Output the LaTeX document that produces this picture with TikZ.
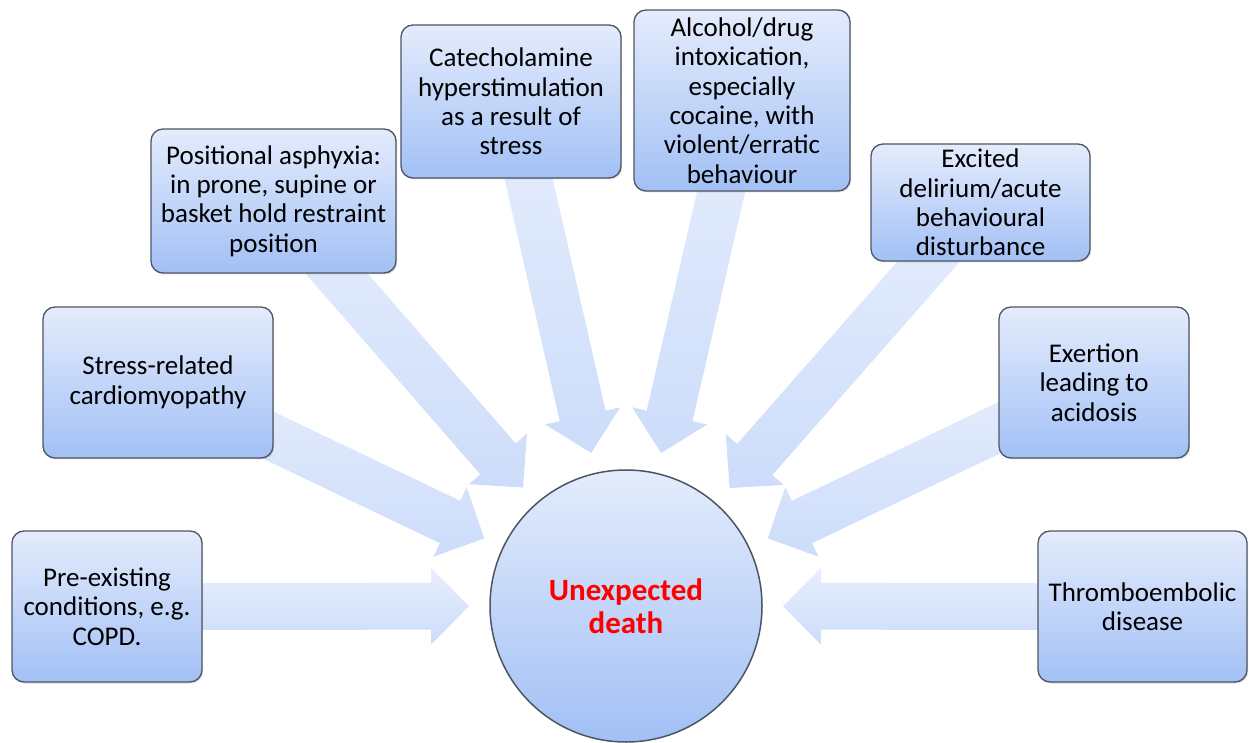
\documentclass[tikz,border=0pt]{standalone}
\usepackage{fontspec}
\setmainfont{Carlito}
\usetikzlibrary{calc,backgrounds,shadows}
\definecolor{boxtop}{HTML}{E4ECFC}
\definecolor{boxbot}{HTML}{A2C0F5}
\definecolor{arrtop}{HTML}{E8EFFD}
\definecolor{arrbot}{HTML}{CCDCFA}
\definecolor{edgegray}{HTML}{4E5562}
\begin{document}
\begin{tikzpicture}[x=1pt,y=1pt,
  causebox/.style={rounded corners=12pt, draw=edgegray, line width=1.3pt,
    top color=boxtop, bottom color=boxbot, align=center, inner sep=0pt,
    font=\fontsize{27}{29.4}\selectfont,
    drop shadow={opacity=0.25, shadow xshift=1.2pt, shadow yshift=-1.5pt}},
  hubcircle/.style={circle, draw=edgegray, line width=1.5pt,
    top color=boxtop, bottom color=boxbot, minimum size=272pt, inner sep=0pt,
    align=center, text=red, font=\bfseries\fontsize{31}{33}\selectfont},
  arrowbody/.style={top color=arrtop, bottom color=arrbot, draw=none}]
\useasboundingbox (0,0) rectangle (1249,742);

\node[causebox, minimum width=190pt, minimum height=151pt] (pre) at (107,135.5)
  {Pre-existing\\conditions, e.g.\\COPD.};
\node[causebox, minimum width=230pt, minimum height=151pt] (stress) at (158,359.5)
  {Stress-related\\cardiomyopathy};
\node[causebox, minimum width=245pt, minimum height=144pt] (posn) at (273.5,541)
  {Positional asphyxia:\\in prone, supine or\\basket hold restraint\\position};
\node[causebox, minimum width=220pt, minimum height=153pt] (cate) at (511,640.5)
  {Catecholamine\\hyperstimulation\\as a result of\\stress};
\node[causebox, minimum width=216pt, minimum height=181pt] (alco) at (742,641.5)
  {Alcohol/drug\\intoxication,\\especially\\cocaine, with\\violent/erratic\\behaviour};
\node[causebox, minimum width=219pt, minimum height=117pt] (exci) at (980.5,539.5)
  {Excited\\delirium/acute\\behavioural\\disturbance};
\node[causebox, minimum width=190pt, minimum height=151pt] (exer) at (1094,359.5)
  {Exertion\\leading to\\acidosis};
\node[causebox, minimum width=209pt, minimum height=151pt] (thro) at (1142.5,135.5)
  {Thromboembolic\\disease};

\node[hubcircle] (death) at (626,136) {Unexpected\\death};

\begin{scope}[on background layer]
\foreach \b in {pre,stress,posn,cate,alco,exci,exer,thro}{
  \coordinate (T) at (\b.center);
  \coordinate (P) at ($(death.center)!157pt!(\b.center)$);
  \coordinate (H) at ($(P)!38pt!(T)$);
  \path[arrowbody] ($(T)!23.5pt!90:(P)$) -- ($(H)!23.5pt!-90:(T)$)
    -- ($(H)!38.5pt!-90:(T)$) -- (P) -- ($(H)!38.5pt!90:(T)$)
    -- ($(H)!23.5pt!90:(T)$) -- ($(T)!23.5pt!-90:(P)$) -- cycle;
}
\end{scope}
\end{tikzpicture}
\end{document}
